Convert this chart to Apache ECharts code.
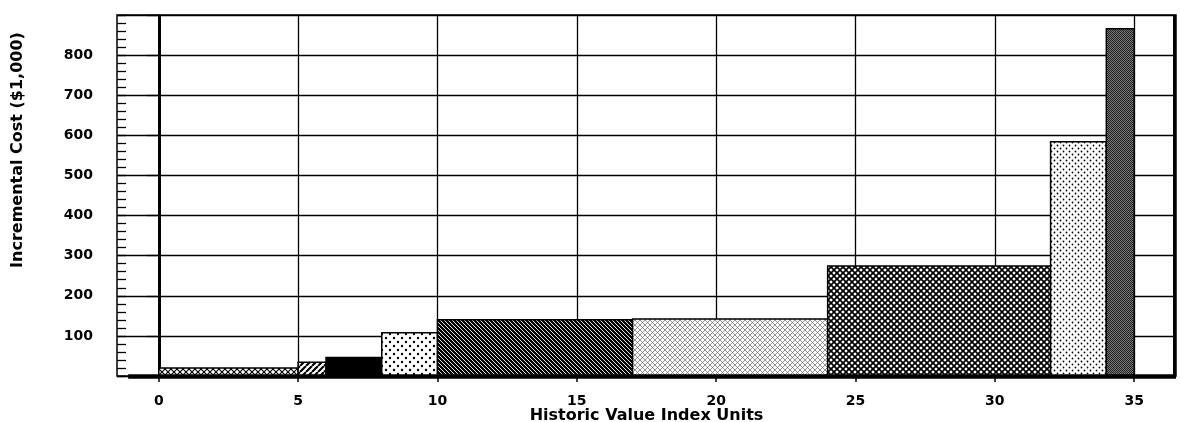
<!DOCTYPE html>
<html>
<head>
<meta charset="utf-8">
<title>Incremental Cost</title>
<script src="https://cdn.jsdelivr.net/npm/echarts@6/dist/echarts.min.js"></script>
<style>
  html, body { margin: 0; padding: 0; background: #fff; }
  #chart { width: 1180px; height: 422px; }
</style>
</head>
<body>
<div id="chart"></div>
<script>
// bins on the x axis (historic value index units) and their cost
const binStart = [0, 5, 6, 8, 10, 17, 24, 32, 34]
const binEnd = [5, 6, 8, 10, 17, 24, 32, 34, 35]
const cost = [20, 34, 46, 108, 140, 142, 274, 584, 866]
const xTicks = [0, 5, 10, 15, 20, 25, 30, 35]
const gridX = [5, 10, 15, 20, 25, 30, 35]

// little canvas tiles for the hatch fills
function pattern(w, h, draw) {
  let c = document.createElement('canvas')
  c.width = w
  c.height = h
  let g = c.getContext('2d')
  g.fillStyle = '#fff'
  g.fillRect(0, 0, w, h)
  g.strokeStyle = '#000'
  g.fillStyle = '#000'
  draw(g, w, h)
  return { image: c, repeat: 'repeat' }
}
function diag(g, w, h, dir, lw) {
  g.lineWidth = lw
  g.beginPath()
  for (let k = -1; k <= 1; k++) {
    if (dir > 0) { g.moveTo(k * w, h); g.lineTo(k * w + w, 0) }
    else { g.moveTo(k * w, 0); g.lineTo(k * w + w, h) }
  }
  g.stroke()
}
function dots(g, pts, r) {
  pts.forEach(p => { g.beginPath(); g.arc(p[0], p[1], r, 0, Math.PI * 2); g.fill() })
}

const fills = [
  pattern(6, 6, (g, w, h) => { diag(g, w, h, 1, 1.1); diag(g, w, h, -1, 1.1) }),
  pattern(6, 6, (g, w, h) => diag(g, w, h, 1, 2.2)),
  '#000',
  pattern(8, 8, g => dots(g, [[2, 2], [6, 6]], 1.2)),
  pattern(4, 4, (g, w, h) => { g.fillRect(0, 0, w, h); g.strokeStyle = '#fff'; diag(g, w, h, -1, 0.9) }),
  pattern(5, 5, (g, w, h) => { g.strokeStyle = '#666'; diag(g, w, h, 1, 0.7); diag(g, w, h, -1, 0.7) }),
  pattern(6, 6, (g, w, h) => { diag(g, w, h, 1, 1.7); diag(g, w, h, -1, 1.7) }),
  pattern(6, 6, g => dots(g, [[1.5, 1.5], [4.5, 4.5]], 0.9)),
  pattern(2, 2, g => { g.fillStyle = '#777'; g.fillRect(0, 0, 2, 2); g.fillStyle = '#222'; g.fillRect(0, 0, 1, 1); g.fillRect(1, 1, 1, 1) })
]

const font = 'DejaVu Sans'
let ch = echarts.init(document.getElementById('chart'))
let option = {
  animation: false,
  backgroundColor: '#fff',
  grid: {
    left: 117,
    right: 4,
    top: 15,
    bottom: 46,
    outerBoundsMode: 'none',
    show: true,
    borderColor: '#000',
    borderWidth: 1.5
  },
  xAxis: {
    type: 'value',
    min: -1.5,
    max: 36.5,
    name: 'Historic Value Index Units',
    nameLocation: 'middle',
    nameGap: 32,
    nameMoveOverlap: false,
    nameTextStyle: { color: '#000', fontFamily: font, fontWeight: 'bold', fontSize: 16 },
    axisLine: { show: false },
    axisTick: {
      customValues: xTicks,
      length: 6,
      lineStyle: { color: '#000', width: 1.5 }
    },
    axisLabel: {
      customValues: xTicks,
      margin: 18,
      color: '#000',
      fontFamily: font,
      fontWeight: 'bold',
      fontSize: 14
    },
    splitLine: { show: false }
  },
  yAxis: [
    {
      type: 'value',
      min: 0,
      max: 900,
      interval: 100,
      axisLine: { show: true, lineStyle: { color: '#000', width: 1.5 } },
      axisTick: { length: 12, lineStyle: { color: '#000', width: 1.3 } },
      axisLabel: {
        margin: 24,
        color: '#000',
        fontFamily: font,
        fontWeight: 'bold',
        fontSize: 14,
        formatter: v => (v === 0 || v === 900) ? '' : v
      },
      splitLine: { lineStyle: { color: '#000', width: 1.3 } }
    },
    {
      // minor ticks inside the left border
      type: 'value',
      position: 'left',
      min: 0,
      max: 900,
      interval: 20,
      axisLine: { show: false },
      axisTick: { inside: true, length: 9, lineStyle: { color: '#000', width: 1.3 } },
      axisLabel: { show: false },
      splitLine: { show: false }
    }
  ],
  graphic: [
    {
      type: 'text',
      x: 18,
      y: 150,
      rotation: Math.PI / 2,
      style: {
        text: 'Incremental Cost ($1,000)',
        fill: '#000',
        font: 'bold 16px "DejaVu Sans"',
        align: 'center',
        verticalAlign: 'middle'
      }
    }
  ],
  series: [
    {
      name: 'grid',
      type: 'line',
      data: [],
      z: 1,
      markLine: {
        z: 1,
        silent: true,
        symbol: 'none',
        label: { show: false },
        lineStyle: { color: '#000', width: 1.3, type: 'solid' },
        data: gridX.map(v => ({ xAxis: v })).concat([{ xAxis: 0, lineStyle: { width: 3 } }])
      }
    },
    {
      name: 'cost',
      type: 'custom',
      z: 3,
      encode: { x: [0, 1], y: 2 },
      data: binStart.map((s, i) => [s, binEnd[i], cost[i]]),
      renderItem(params, api) {
        let p0 = api.coord([api.value(0), api.value(2)])
        let p1 = api.coord([api.value(1), 0])
        return {
          type: 'rect',
          shape: { x: p0[0], y: p0[1], width: p1[0] - p0[0], height: p1[1] - p0[1] },
          style: { fill: fills[params.dataIndex], stroke: '#000', lineWidth: 1.5 }
        }
      }
    },
    {
      name: 'base',
      type: 'line',
      data: [],
      z: 5,
      markLine: {
        z: 5,
        silent: true,
        symbol: 'none',
        label: { show: false },
        lineStyle: { color: '#000', width: 4.5, type: 'solid' },
        data: [
          [{ coord: [-1.1, 0] }, { coord: [36.5, 0] }],
          [{ coord: [36.45, 0], lineStyle: { width: 3 } }, { coord: [36.45, 900], lineStyle: { width: 3 } }]
        ]
      }
    }
  ]
}
ch.setOption(option)
</script>
</body>
</html>
